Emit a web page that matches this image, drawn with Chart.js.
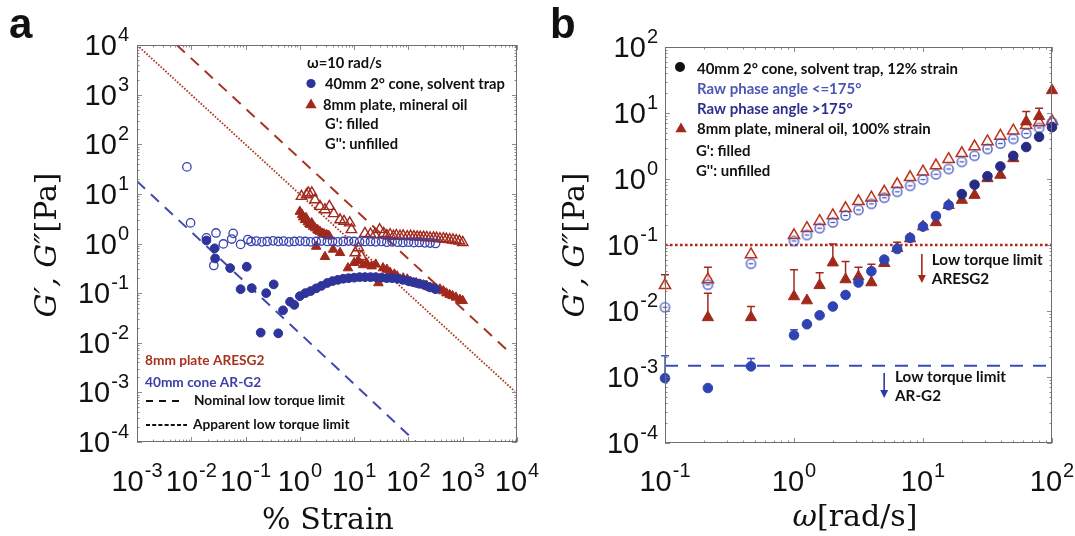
<!DOCTYPE html>
<html><head><meta charset="utf-8">
<script src="https://cdn.jsdelivr.net/npm/chart.js@4.4.0/dist/chart.umd.min.js"></script>
<style>html,body{margin:0;padding:0;background:#fff;}#wrap{position:relative;width:1075px;height:536px;overflow:hidden;background:#fff}canvas{position:absolute;top:0}</style>
</head><body><div id="wrap"><canvas id="ca" width="540" height="536" style="left:0"></canvas><canvas id="cb" width="535" height="536" style="left:540px"></canvas></div>
<script>
// ---------------- Panel a data (strain sweep, ω = 10 rad/s) ----------------
const aXTicks = [1e-3, 1e-2, 1e-1, 1e0, 1e1, 1e2, 1e3, 1e4];
const aXTickLabels = ['-3', '-2', '-1', '0', '1', '2', '3', '4'];
const aYTicks = [1e-4, 1e-3, 1e-2, 1e-1, 1e0, 1e1, 1e2, 1e3, 1e4];
const aYTickLabels = ['-4', '-3', '-2', '-1', '0', '1', '2', '3', '4'];

// 40mm cone, G'' (open circles)
const aBlueGppX = [0.0083, 0.0097, 0.019, 0.026, 0.0285, 0.039, 0.0555, 0.059, 0.081, 0.11,
  0.126, 0.158, 0.2, 0.25, 0.32, 0.4, 0.5, 0.63, 0.79, 1.0, 1.26, 1.58, 2.0, 2.5, 3.2, 4.0, 5.0, 6.3, 7.9,
  10, 12.6, 15.8, 20, 25, 32, 40, 50, 63, 79, 100, 126, 158, 200, 250, 316];
const aBlueGppY = [35, 2.6, 1.3, 0.36, 1.63, 0.98, 1.23, 1.6, 0.96, 1.2,
  1.1, 1.12, 1.08, 1.1, 1.13, 1.1, 1.12, 1.08, 1.1, 1.12, 1.1, 1.08, 1.1, 1.12, 1.1, 1.1, 1.08, 1.1, 1.12,
  1.1, 1.08, 1.1, 1.1, 1.08, 1.1, 1.06, 1.08, 1.06, 1.05, 1.06, 1.04, 1.05, 1.03, 1.02, 1.0];
// 40mm cone, G' (filled circles)
const aBlueGpX = [0.019, 0.027, 0.0275, 0.052, 0.105, 0.081, 0.13, 0.24, 0.33, 0.19, 0.4, 0.49, 0.66, 0.79,
  1.0, 1.26, 1.58, 2.0, 2.5, 3.2, 4.0, 5.0, 6.3, 7.9, 10, 12.6, 15.8, 20, 25, 32, 40, 50, 63, 79,
  100, 126, 158, 200, 250, 316];
const aBlueGpY = [1.15, 0.8, 0.5, 0.32, 0.34, 0.12, 0.126, 0.1, 0.15, 0.016, 0.0155, 0.045, 0.067, 0.058,
  0.087, 0.1, 0.11, 0.125, 0.14, 0.16, 0.175, 0.185, 0.195, 0.2, 0.205, 0.21, 0.21, 0.21, 0.21, 0.205, 0.2, 0.2, 0.195, 0.185,
  0.175, 0.165, 0.155, 0.145, 0.13, 0.12];
// 8mm plate, G' (filled triangles)
const aRedGpX = [1.0, 1.1, 1.15, 1.24, 1.3, 1.4, 1.5, 1.55, 1.65, 1.75, 1.9, 2.1, 2.2, 2.35, 2.6, 2.8, 3.1, 3.3, 3.5,
  2.0, 2.9, 4.1, 5.5, 7.7, 10, 12, 14.6, 17, 21, 25, 28, 34, 40, 46, 55, 62, 70, 80, 95, 110, 123, 140, 160,
  190, 218, 250, 290, 330, 380, 440, 500, 575, 650, 750, 890, 1000];
const aRedGpY = [4.4, 3.8, 3.4, 3.0, 3.3, 2.7, 2.5, 2.4, 2.6, 2.2, 2.05, 1.9, 1.8, 1.74, 1.6, 1.55, 1.5, 1.45, 1.4,
  0.87, 0.54, 0.76, 0.65, 0.32, 0.41, 0.45, 0.37, 0.4, 0.35, 0.38, 0.16, 0.32, 0.3, 0.26, 0.24, 0.22, 0.19, 0.2, 0.19, 0.17, 0.16, 0.16, 0.15,
  0.145, 0.14, 0.13, 0.125, 0.12, 0.12, 0.11, 0.1, 0.093, 0.088, 0.082, 0.074, 0.07];
// 8mm plate, G'' (open triangles)
const aRedGppX = [1.07, 1.33, 1.43, 1.66, 1.9, 2.35, 2.9, 3.5, 4.2, 5.5, 6.5, 8.3, 8.9, 10.5, 12, 13.5, 15.8, 20, 24,
  29.5, 35, 40, 46, 53, 60, 70, 80, 95, 110, 126, 145, 165, 190, 218, 250, 290, 330, 380, 440, 500, 575, 660, 760, 870, 1000];
const aRedGppY = [8.9, 9.6, 10.5, 10.5, 7.6, 5.6, 4.8, 5.6, 4.0, 3.0, 2.8, 2.6, 1.9, 0.65, 0.82, 0.55, 1.6, 1.55, 1.5,
  1.9, 1.6, 1.45, 1.5, 1.4, 1.45, 1.4, 1.42, 1.38, 1.4, 1.38, 1.36, 1.35, 1.35, 1.32, 1.3, 1.3, 1.28, 1.25, 1.25, 1.22, 1.2, 1.18, 1.15, 1.12, 1.05];
// torque limit lines (end points)
const aNomRedX = [0.0054, 6900];   const aNomRedY = [10000, 0.0068];
const aAppRedX = [0.001, 9100];    const aAppRedY = [10000, 0.00105];
const aNomBlueX = [0.001, 138];    const aNomBlueY = [18, 0.0001];

// ---------------- Panel b data (frequency sweep) ----------------
const bXTicks = [1e-1, 1e0, 1e1, 1e2];
const bXTickLabels = ['-1', '0', '1', '2'];
const bYTicks = [1e-4, 1e-3, 1e-2, 1e-1, 1e0, 1e1, 1e2];
const bYTickLabels = ['-4', '-3', '-2', '-1', '0', '1', '2'];
const bOmega = [0.1, 0.215, 0.464, 1, 1.26, 1.58, 2, 2.51, 3.16, 3.98, 5.01, 6.31, 7.94, 10, 12.6, 15.8, 20, 25.1, 31.6, 39.8, 50.1, 63.1, 79.4, 100];
const bBlueGp  = [0.00096, 0.00068, 0.00145, 0.0043, 0.0063, 0.0086, 0.0117, 0.0175, 0.027, 0.040, 0.060, 0.087, 0.128, 0.19, 0.275, 0.40, 0.59, 0.82, 1.1, 1.55, 2.24, 3.05, 4.35, 6.1];
const bBlueGpErr = [0.0021, null, 0.0019, 0.0052, null, null, null, null, null, null, null, null, null, null, null, null, null, null, null, null, null, null, null, null];
const bBlueGpp = [0.0114, 0.025, 0.052, 0.115, 0.142, 0.18, 0.22, 0.28, 0.34, 0.42, 0.52, 0.64, 0.79, 0.98, 1.18, 1.42, 1.82, 2.25, 2.85, 3.45, 4.05, 4.9, 5.95, 7.2];
const bRedGp   = [null, 0.008, 0.008, 0.0166, 0.0144, 0.0245, 0.054, 0.030, 0.033, 0.027, 0.053, 0.089, 0.125, 0.19, 0.22, 0.40, 0.48, 0.57, 1.02, 1.15, 2.05, 7.4, 8.9, 22];
const bRedGpErr = [null, 0.0186, 0.0117, 0.042, null, 0.038, 0.104, 0.056, 0.046, 0.051, null, 0.11, null, null, null, null, null, null, null, null, null, 10.5, 11.8, null];
const bRedGpp  = [0.0245, 0.030, 0.072, 0.14, 0.18, 0.23, 0.28, 0.36, 0.46, 0.52, 0.64, 0.83, 1.06, 1.29, 1.6, 2.0, 2.45, 3.1, 3.7, 4.5, 5.4, 6.5, 7.2, 7.5];
const bRedGppErr = [0.0355, 0.046, null, null, null, null, null, null, null, null, null, null, null, null, null, null, null, null, null, null, null, null, null, null];
const bLimX = [0.1, 100];
const bLimRedY = [0.1, 0.1];
const bLimBlueY = [0.00148, 0.00148];

// ---------------- styles ----------------
const RED = '#a0291c';
const BLUE = '#2e3499';
const BLUE_L = '#3d52c4';
const BLUE_D = '#262c84';
const SANS = '"Liberation Sans", Arial, sans-serif';
const SERIF = '"DejaVu Serif", serif';
const LEG = 'Lato, "Open Sans", sans-serif';

function pts(xs, ys) { const o = []; xs.forEach((x, i) => { if (ys[i] !== null && ys[i] !== undefined) o.push({x: x, y: ys[i]}); }); return o; }

function pow10(ctx, exp, x, y, align) {
  ctx.font = '29px ' + SANS; const wb = ctx.measureText('10').width;
  ctx.font = '20px ' + SANS; const we = ctx.measureText(exp).width;
  const tot = wb + 1 + we;
  const x0 = align === 'center' ? x - tot / 2 : x - tot;
  ctx.textAlign = 'left'; ctx.textBaseline = 'alphabetic'; ctx.fillStyle = '#111';
  ctx.font = '29px ' + SANS; ctx.fillText('10', x0, y);
  ctx.font = '20px ' + SANS; ctx.fillText(exp, x0 + wb + 1, y - 14);
}

function frameAndTicks(chart) {
  const {ctx, chartArea: a, scales: {x, y}} = chart;
  ctx.save();
  ctx.strokeStyle = '#6e6e6e'; ctx.lineWidth = 1;
  ctx.strokeRect(a.left + 0.5, a.top + 0.5, a.right - a.left - 1, a.bottom - a.top - 1);
  ctx.lineWidth = 0.8; ctx.beginPath();
  const decs = (min, max) => { const r = []; for (let e = Math.round(Math.log10(min)); e <= Math.round(Math.log10(max)); e++) for (let m = 1; m <= 9; m++) { const v = m * Math.pow(10, e); if (v >= min * 0.999 && v <= max * 1.001) r.push([v, m]); } return r; };
  decs(x.min, x.max).forEach(([v, m]) => { const p = Math.round(x.getPixelForValue(v)) + 0.5; const l = m === 1 ? 5 : 2.5;
    ctx.moveTo(p, a.bottom); ctx.lineTo(p, a.bottom - l); ctx.moveTo(p, a.top); ctx.lineTo(p, a.top + l); });
  decs(y.min, y.max).forEach(([v, m]) => { const p = Math.round(y.getPixelForValue(v)) + 0.5; const l = m === 1 ? 5 : 2.5;
    ctx.moveTo(a.left, p); ctx.lineTo(a.left + l, p); ctx.moveTo(a.right, p); ctx.lineTo(a.right - l, p); });
  ctx.stroke();
  ctx.restore();
}

function tickLabels(chart, xt, xl, yt, yl, yRight, xBase) {
  const {ctx, scales: {x, y}} = chart;
  ctx.save();
  xt.forEach((v, i) => pow10(ctx, xl[i], x.getPixelForValue(v), xBase, 'center'));
  yt.forEach((v, i) => pow10(ctx, yl[i], yRight, y.getPixelForValue(v) + 10, 'right'));
  ctx.restore();
}

function yTitle(ctx, cx, cy) {
  ctx.save();
  ctx.translate(cx, cy); ctx.rotate(-Math.PI / 2);
  ctx.fillStyle = '#111'; ctx.textBaseline = 'middle'; ctx.textAlign = 'left';
  const p1 = 'G\u2032, G\u2033', p2 = '[Pa]';
  ctx.font = 'italic 30px ' + SERIF; const w1 = ctx.measureText(p1).width;
  ctx.font = '30px ' + SERIF; const w2 = ctx.measureText(p2).width;
  const x0 = -(w1 + w2) / 2;
  ctx.font = 'italic 30px ' + SERIF; ctx.fillText(p1, x0, 0);
  ctx.font = '30px ' + SERIF; ctx.fillText(p2, x0 + w1, 0);
  ctx.restore();
}

function fitSize(ctx, text, target, fam) { ctx.font = 'bold 20px ' + fam; return 20 * target / ctx.measureText(text).width; }

function tri(ctx, x, y, r, fill) { ctx.beginPath(); ctx.moveTo(x, y - r); ctx.lineTo(x + r * 0.866, y + r * 0.5); ctx.lineTo(x - r * 0.866, y + r * 0.5); ctx.closePath(); ctx.fillStyle = fill; ctx.fill(); }
function dot(ctx, x, y, r, fill) { ctx.beginPath(); ctx.arc(x, y, r, 0, 2 * Math.PI); ctx.fillStyle = fill; ctx.fill(); }

function circleDash(color, r, lw) {
  const s = Math.ceil(2 * r + lw + 2); const c = document.createElement('canvas'); c.width = s; c.height = s;
  const g = c.getContext('2d'); g.strokeStyle = color; g.lineWidth = lw;
  g.beginPath(); g.arc(s / 2, s / 2, r, 0, 2 * Math.PI); g.stroke();
  g.beginPath(); g.moveTo(s / 2 - r * 0.5, s / 2); g.lineTo(s / 2 + r * 0.5, s / 2); g.stroke();
  return c;
}

const baseOptions = (pad, xr, yr) => ({
  responsive: false, animation: false, devicePixelRatio: 1, events: [],
  layout: {padding: pad},
  plugins: {legend: {display: false}, tooltip: {enabled: false}},
  scales: {
    x: {type: 'logarithmic', min: xr[0], max: xr[1], display: false},
    y: {type: 'logarithmic', min: yr[0], max: yr[1], display: false}
  }
});

// ---------------- Panel a ----------------
const plugA = {
  id: 'decoA',
  afterDatasetsDraw(chart) {
    frameAndTicks(chart);
    const ctx = chart.ctx;
    tickLabels(chart, aXTicks, aXTickLabels, aYTicks, aYTickLabels, 129, 491);
    ctx.save();
    // panel letter
    ctx.fillStyle = '#111'; ctx.font = 'bold 42px ' + SANS; ctx.textBaseline = 'alphabetic'; ctx.textAlign = 'left';
    ctx.fillText('a', 9, 38);
    // axis titles
    yTitle(ctx, 48, 245);
    ctx.fillStyle = '#111'; ctx.font = '30px ' + SERIF; ctx.textAlign = 'center'; ctx.textBaseline = 'alphabetic';
    ctx.fillText('% Strain', 328, 529);
    // legend top
    const s = fitSize(ctx, '40mm 2\u00b0 cone, solvent trap', 180, LEG);
    ctx.font = 'bold ' + s.toFixed(2) + 'px ' + LEG; ctx.textAlign = 'left'; ctx.textBaseline = 'middle'; ctx.fillStyle = '#111';
    ctx.fillText('\u03c9=10 rad/s', 307, 63);
    dot(ctx, 311, 83.5, 4.6, BLUE);
    ctx.fillStyle = '#111'; ctx.fillText('40mm 2\u00b0 cone, solvent trap', 325, 84);
    tri(ctx, 311, 105, 6.5, RED);
    ctx.fillStyle = '#111'; ctx.fillText('8mm plate, mineral oil', 323, 105);
    ctx.fillText("G': filled", 325, 124);
    ctx.fillText("G'': unfilled", 325, 144);
    // legend bottom-left
    const s2 = fitSize(ctx, 'Nominal low torque limit', 151, LEG);
    ctx.font = 'bold ' + s2.toFixed(2) + 'px ' + LEG;
    ctx.fillStyle = '#a8321f'; ctx.fillText('8mm plate ARESG2', 145, 361);
    ctx.fillStyle = '#3c3fa6'; ctx.fillText('40mm cone AR-G2', 145, 383);
    ctx.fillStyle = '#111'; ctx.fillText('Nominal low torque limit', 194, 401);
    ctx.fillText('Apparent low torque limit', 193, 425);
    ctx.strokeStyle = '#111'; ctx.lineWidth = 2;
    ctx.setLineDash([7, 6]); ctx.beginPath(); ctx.moveTo(146, 401); ctx.lineTo(182, 401); ctx.stroke();
    ctx.setLineDash([4, 2.2]); ctx.beginPath(); ctx.moveTo(146, 425); ctx.lineTo(187, 425); ctx.stroke();
    ctx.setLineDash([]);
    ctx.restore();
  }
};

new Chart(document.getElementById('ca'), {
  type: 'scatter',
  data: {datasets: [
    {data: pts(aBlueGpX, aBlueGpY), pointStyle: 'circle', pointRadius: 4.4, backgroundColor: BLUE, borderColor: BLUE, borderWidth: 1, clip: false},
    {data: pts(aBlueGppX, aBlueGppY), pointStyle: 'circle', pointRadius: 4.2, backgroundColor: 'rgba(0,0,0,0)', borderColor: '#3640b0', borderWidth: 1.3, clip: false},
    {data: pts(aRedGpX, aRedGpY), pointStyle: 'triangle', pointRadius: 5.5, backgroundColor: RED, borderColor: RED, borderWidth: 1, clip: false},
    {data: pts(aRedGppX, aRedGppY), pointStyle: 'triangle', pointRadius: 6, backgroundColor: 'rgba(0,0,0,0)', borderColor: RED, borderWidth: 1.4, clip: false},
    {data: pts(aNomRedX, aNomRedY), showLine: true, pointRadius: 0, borderColor: '#a83322', borderWidth: 2, borderDash: [11, 8]},
    {data: pts(aAppRedX, aAppRedY), showLine: true, pointRadius: 0, borderColor: '#b0341f', borderWidth: 1.8, borderDash: [1.6, 1.6]},
    {data: pts(aNomBlueX, aNomBlueY), showLine: true, pointRadius: 0, borderColor: '#4148b2', borderWidth: 2, borderDash: [11, 8]}
  ]},
  options: baseOptions({left: 137, top: 45, right: 23, bottom: 94}, [1e-3, 1e4], [1e-4, 1e4]),
  plugins: [plugA]
});

// ---------------- Panel b ----------------
function errBars(chart, xs, lo, hi, color) {
  const {ctx, scales: {x, y}} = chart;
  ctx.save(); ctx.strokeStyle = color; ctx.lineWidth = 1.5; ctx.beginPath();
  xs.forEach((v, i) => {
    if (hi[i] === null || lo[i] === null) return;
    const px = x.getPixelForValue(v), p0 = y.getPixelForValue(lo[i]), p1 = y.getPixelForValue(hi[i]);
    ctx.moveTo(px, p0); ctx.lineTo(px, p1); ctx.moveTo(px - 4, p1); ctx.lineTo(px + 4, p1);
  });
  ctx.stroke(); ctx.restore();
}

const plugB = {
  id: 'decoB',
  beforeDatasetsDraw(chart) {
    errBars(chart, bOmega, bRedGp, bRedGpErr, RED);
    errBars(chart, bOmega, bRedGpp, bRedGppErr, RED);
    errBars(chart, bOmega, bBlueGp, bBlueGpErr, BLUE_L);
  },
  afterDatasetsDraw(chart) {
    frameAndTicks(chart);
    const ctx = chart.ctx; const {x, y} = chart.scales;
    tickLabels(chart, bXTicks, bXTickLabels, bYTicks, bYTickLabels, 118, 491);
    ctx.save();
    ctx.fillStyle = '#111'; ctx.font = 'bold 42px ' + SANS; ctx.textBaseline = 'alphabetic'; ctx.textAlign = 'left';
    ctx.fillText('b', 10, 38);
    yTitle(ctx, 36, 245);
    // x title
    ctx.textBaseline = 'alphabetic'; ctx.textAlign = 'left'; ctx.fillStyle = '#111';
    ctx.font = 'italic 30px ' + SERIF; const w1 = ctx.measureText('\u03c9').width;
    ctx.font = '30px ' + SERIF; const w2 = ctx.measureText('[rad/s]').width;
    const x0 = 315 - (w1 + w2) / 2;
    ctx.font = 'italic 30px ' + SERIF; ctx.fillText('\u03c9', x0, 526);
    ctx.font = '30px ' + SERIF; ctx.fillText('[rad/s]', x0 + w1, 526);
    // legend
    const s = fitSize(ctx, '40mm 2\u00b0 cone, solvent trap, 12% strain', 261, LEG);
    ctx.font = 'bold ' + s.toFixed(2) + 'px ' + LEG; ctx.textBaseline = 'middle';
    dot(ctx, 140, 67, 5, '#111');
    ctx.fillStyle = '#111'; ctx.fillText('40mm 2\u00b0 cone, solvent trap, 12% strain', 157, 69);
    ctx.fillStyle = '#4c56b4'; ctx.fillText('Raw phase angle <=175\u00b0', 157, 89);
    ctx.fillStyle = '#2c2f8c'; ctx.fillText('Raw phase angle >175\u00b0', 157, 109);
    tri(ctx, 141, 129, 6.5, RED);
    ctx.fillStyle = '#111'; ctx.fillText('8mm plate, mineral oil, 100% strain', 157, 129.5);
    ctx.fillText("G': filled", 156, 151.5);
    ctx.fillText("G'': unfilled", 156, 171.5);
    // low torque limit annotations (placed in data coordinates)
    const s2 = fitSize(ctx, 'Low torque limit', 111, LEG);
    ctx.font = 'bold ' + s2.toFixed(2) + 'px ' + LEG;
    const arrow = (xv, y0, y1, col) => {
      const px = x.getPixelForValue(xv), p0 = y.getPixelForValue(y0), p1 = y.getPixelForValue(y1);
      ctx.strokeStyle = col; ctx.lineWidth = 1.6; ctx.beginPath(); ctx.moveTo(px, p0); ctx.lineTo(px, p1 - 6); ctx.stroke();
      ctx.fillStyle = col; ctx.beginPath(); ctx.moveTo(px - 4, p1 - 8); ctx.lineTo(px + 4, p1 - 8); ctx.lineTo(px, p1); ctx.closePath(); ctx.fill();
    };
    arrow(9.8, 0.073, 0.0265, RED);
    arrow(5.0, 0.00115, 0.00048, '#2f3aa8');
    ctx.fillStyle = '#111';
    ctx.fillText('Low torque limit', x.getPixelForValue(11.7), y.getPixelForValue(0.059));
    ctx.fillText('ARESG2', x.getPixelForValue(11.7), y.getPixelForValue(0.0305));
    ctx.fillText('Low torque limit', x.getPixelForValue(6.07), y.getPixelForValue(0.001));
    ctx.fillText('AR-G2', x.getPixelForValue(6.07), y.getPixelForValue(0.000515));
    ctx.restore();
  }
};

const openBlue = circleDash(BLUE_L, 4.6, 1.3);
new Chart(document.getElementById('cb'), {
  type: 'scatter',
  data: {datasets: [
    {data: pts(bOmega, bBlueGp), pointStyle: 'circle', pointRadius: 4.8,
      backgroundColor: bOmega.map(w => w >= 20 ? BLUE_D : '#2f43b2'), borderColor: bOmega.map(w => w >= 20 ? BLUE_D : '#2f43b2'), borderWidth: 1, clip: false},
    {data: pts(bOmega, bBlueGpp), pointStyle: openBlue, clip: false},
    {data: pts(bOmega, bRedGp), pointStyle: 'triangle', pointRadius: 6.5, backgroundColor: RED, borderColor: RED, borderWidth: 1, clip: false},
    {data: pts(bOmega, bRedGpp), pointStyle: 'triangle', pointRadius: 6.5, backgroundColor: 'rgba(255,240,230,0.6)', borderColor: '#b8321c', borderWidth: 1.5, clip: false},
    {data: pts(bLimX, bLimRedY), showLine: true, pointRadius: 0, borderColor: '#b0281a', borderWidth: 2.6, borderDash: [2.6, 2.4]},
    {data: pts(bLimX, bLimBlueY), showLine: true, pointRadius: 0, borderColor: '#3a48bd', borderWidth: 2.2, borderDash: [13, 10]}
  ]},
  options: baseOptions({left: 125, top: 47, right: 23, bottom: 93}, [1e-1, 1e2], [1e-4, 1e2]),
  plugins: [plugB]
});
</script></body></html>
